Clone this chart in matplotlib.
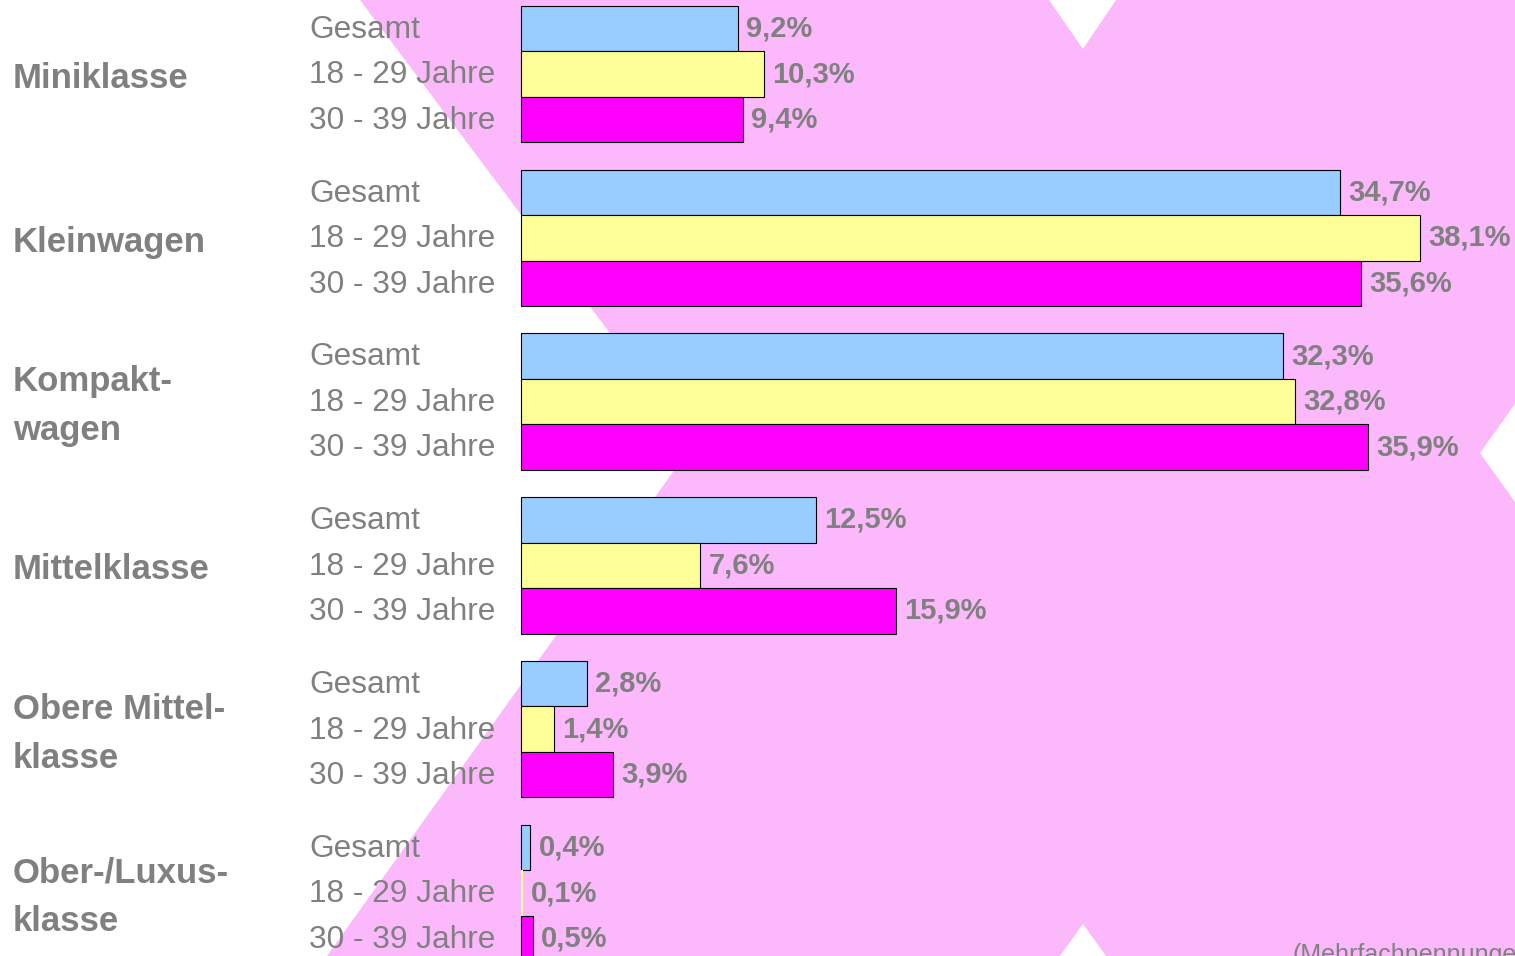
import matplotlib
matplotlib.use('Agg')
import matplotlib.pyplot as plt
import matplotlib.transforms as mtransforms
from matplotlib.patches import Polygon

# data
categories = ['Miniklasse', 'Kleinwagen', 'Kompakt-\nwagen', 'Mittelklasse',
              'Obere Mittel-\nklasse', 'Ober-/Luxus-\nklasse']
groups = ['Gesamt', '18 - 29 Jahre', '30 - 39 Jahre']
gesamt = [9.2, 34.7, 32.3, 12.5, 2.8, 0.4]
jahre_18_29 = [10.3, 38.1, 32.8, 7.6, 1.4, 0.1]
jahre_30_39 = [9.4, 35.6, 35.9, 15.9, 3.9, 0.5]
colors = ['#99CCFF', '#FFFF99', '#FF00FF']
pink = '#FBB9FB'
gray = '#808080'

W, H = 1515, 956
fig = plt.figure(figsize=(W / 100, H / 100), dpi=100)
fig.patch.set_facecolor(pink)

# background: white wedges around the big pink "X" (pixel coords, y down)
bg = fig.add_axes([0, 0, 1, 1], zorder=0)
bg.set_xlim(0, W)
bg.set_ylim(H, 0)
bg.axis('off')
wedges = [
    [(0, 0), (360, 0), (693, 444), (327, 956), (0, 956)],
    [(1049, 0), (1083, 49), (1116, 0)],
    [(1060, 956), (1083, 924), (1106, 956)],
    [(1515, 404), (1480, 453), (1515, 502)],
]
for w in wedges:
    bg.add_patch(Polygon(w, closed=True, facecolor='white', edgecolor='none'))

ax = fig.add_axes([0, 0, 1, 1], zorder=1)
ax.set_facecolor('none')
ax.axis('off')

px_per = 23.6
x0 = 521
ax.set_xlim(-x0 / px_per, (W - x0) / px_per)
bar_h = 45.5
ax.set_ylim((H - 28.5) / bar_h, -28.5 / bar_h)

step = 3.6
series = [gesamt, jahre_18_29, jahre_30_39]
trans = mtransforms.blended_transform_factory(fig.transFigure, ax.transData)
fam = ['Liberation Sans', 'DejaVu Sans']

for i, cat in enumerate(categories):
    base = i * step
    for j, vals in enumerate(series):
        y = base + j
        v = vals[i]
        # the 0,1% bar is too thin to show in the original
        ax.barh(y, v, height=1.0, color=colors[j],
                edgecolor='black' if v >= 0.2 else 'none',
                linewidth=0.8, zorder=2)
        lab = ('%.1f%%' % v).replace('.', ',')
        ax.text(v + 8 / px_per, y, lab, va='center', ha='left', color=gray,
                fontsize=21, fontweight='bold', family=fam)
        ax.text(309 / W, y + 0.03, groups[j], transform=trans, va='center',
                ha='left', color=gray, fontsize=22.8, family=fam)
    ax.text(13 / W, base + 1.1, cat, transform=trans, va='center', ha='left',
            color=gray, fontsize=25, fontweight='bold', family=fam,
            linespacing=1.6)

fig.text(1292 / W, 1 - 962 / H, '(Mehrfachnennungen)', color=gray,
         fontsize=18, family=fam, ha='left', va='baseline')

fig.savefig('out.png', dpi=100, facecolor=fig.get_facecolor())
